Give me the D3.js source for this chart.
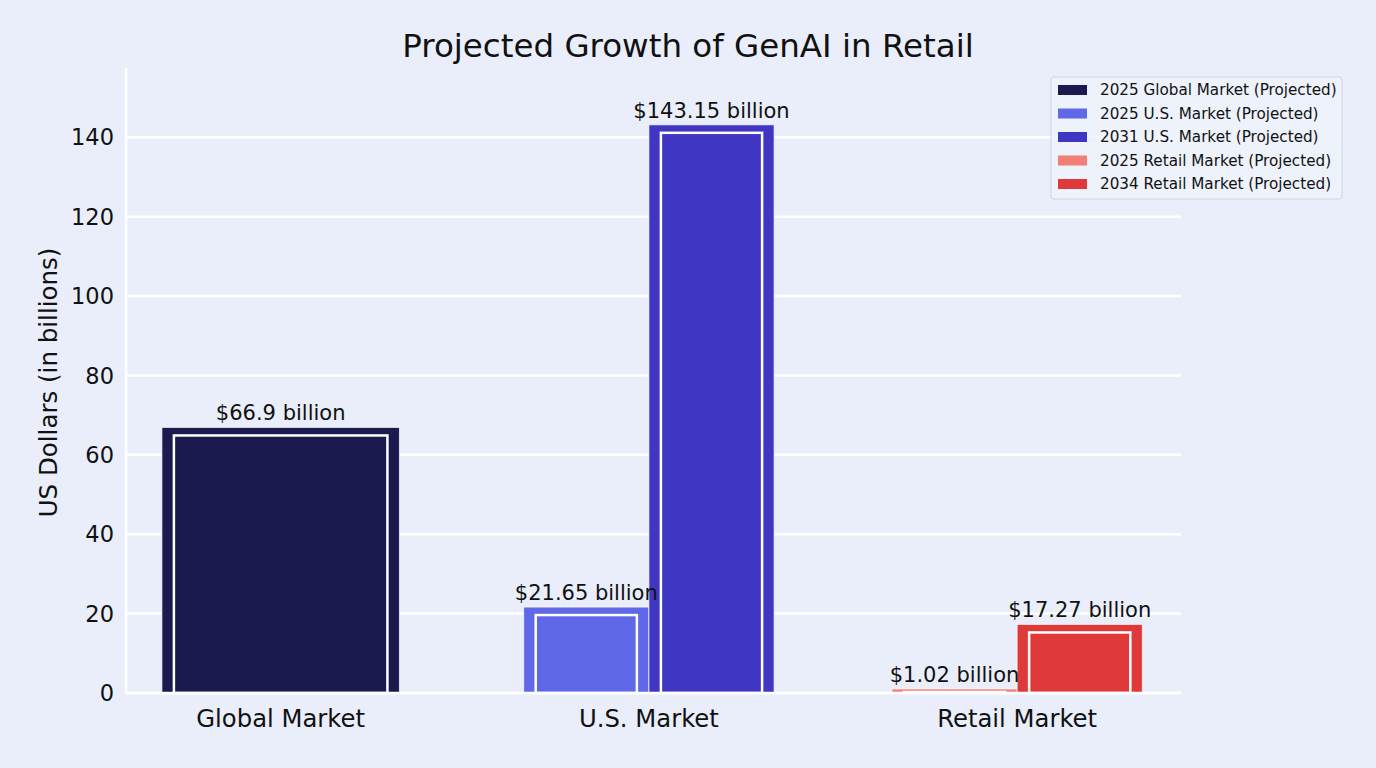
<!DOCTYPE html>
<html>
<head>
<meta charset="utf-8">
<script src="https://cdn.jsdelivr.net/npm/d3@7"></script>
<style>
  html, body { margin: 0; padding: 0; background: #e9eefa; }
  svg { display: block; font-family: "DejaVu Sans", sans-serif; }
</style>
</head>
<body>
<div class="chart-container"></div>
<script>
const width = 1376;
const height = 768;

// Categories and bars
const categories = ['Global Market', 'U.S. Market', 'Retail Market'];
const seriesNames = [
  '2025 Global Market (Projected)',
  '2025 U.S. Market (Projected)',
  '2031 U.S. Market (Projected)',
  '2025 Retail Market (Projected)',
  '2034 Retail Market (Projected)'
];
const seriesCategory = [0, 1, 1, 2, 2];
const seriesValues = [66.9, 21.65, 143.15, 1.02, 17.27];
const seriesLabels = ['$66.9 billion', '$21.65 billion', '$143.15 billion', '$1.02 billion', '$17.27 billion'];
const seriesColors = ['#1b1a4f', '#5f68e6', '#3f37c4', '#f27f76', '#e0393a'];
const yTicks = [0, 20, 40, 60, 80, 100, 120, 140];

const margin = {left: 126, right: 195, top: 68, bottom: 75};

// Offset of each bar from its category centre and its width (in category units)
const barOffset = [0, -0.17, 0.17, -0.17, 0.17];
const barWidth = [0.645, 0.34, 0.34, 0.34, 0.34];

const x = d3.scaleLinear()
  .domain([-0.42, 2.445])
  .range([margin.left, width - margin.right]);

const y = d3.scaleLinear()
  .domain([0, 143.15 * 1.1])
  .range([height - margin.bottom, margin.top]);

const svg = d3.select('.chart-container')
  .append('svg')
  .attr('width', width)
  .attr('height', height);

svg.append('rect')
  .attr('width', width)
  .attr('height', height)
  .attr('fill', '#e9eefa');

// Grid lines
svg.append('g')
  .selectAll('line')
  .data(yTicks)
  .enter()
  .append('line')
  .attr('x1', margin.left)
  .attr('x2', width - margin.right)
  .attr('y1', d => y(d))
  .attr('y2', d => y(d))
  .attr('stroke', '#ffffff')
  .attr('stroke-width', 2.5);

// Left spine
svg.append('line')
  .attr('x1', margin.left).attr('x2', margin.left)
  .attr('y1', y.range()[1]).attr('y2', y(0))
  .attr('stroke', '#ffffff').attr('stroke-width', 2.5);

// Y tick labels
svg.append('g')
  .selectAll('text')
  .data(yTicks)
  .enter()
  .append('text')
  .attr('x', margin.left - 12)
  .attr('y', d => y(d))
  .attr('dy', '0.36em')
  .attr('text-anchor', 'end')
  .attr('font-size', 22.5)
  .attr('fill', '#111')
  .text(d => d);

// Bars
const bars = seriesValues.map((v, i) => ({
  value: v,
  color: seriesColors[i],
  label: seriesLabels[i],
  x0: x(seriesCategory[i] + barOffset[i] - barWidth[i] / 2),
  x1: x(seriesCategory[i] + barOffset[i] + barWidth[i] / 2)
}));

const barG = svg.append('g');

barG.selectAll('.bar')
  .data(bars)
  .enter()
  .append('rect')
  .attr('class', 'bar')
  .attr('x', d => d.x0)
  .attr('y', d => y(d.value))
  .attr('width', d => d.x1 - d.x0)
  .attr('height', d => y(0) - y(d.value))
  .attr('fill', d => d.color)
  .attr('stroke', '#ffffff')
  .attr('stroke-opacity', 0.7)
  .attr('stroke-width', 1);

// Inner outlined rect on each bar
barG.selectAll('.inner')
  .data(bars)
  .enter()
  .append('rect')
  .attr('class', 'inner')
  .attr('x', d => d.x0 + 12)
  .attr('y', d => Math.min(y(d.value) + 8, y(0) - 1))
  .attr('width', d => d.x1 - d.x0 - 24)
  .attr('height', d => Math.max(y(0) - y(d.value) - 8, 1))
  .attr('fill', d => d.color)
  .attr('stroke', '#ffffff')
  .attr('stroke-width', 2.5);

// Baseline spine drawn over bars
svg.append('line')
  .attr('x1', margin.left).attr('x2', width - margin.right)
  .attr('y1', y(0)).attr('y2', y(0))
  .attr('stroke', '#ffffff').attr('stroke-width', 2.5);

// Value labels
barG.selectAll('.value')
  .data(bars)
  .enter()
  .append('text')
  .attr('class', 'value')
  .attr('x', d => (d.x0 + d.x1) / 2)
  .attr('y', d => y(d.value) - 7)
  .attr('text-anchor', 'middle')
  .attr('font-size', 21)
  .attr('fill', '#111')
  .text(d => d.label);

// X tick labels
svg.append('g')
  .selectAll('text')
  .data(categories)
  .enter()
  .append('text')
  .attr('x', (d, i) => x(i))
  .attr('y', y(0) + 34)
  .attr('text-anchor', 'middle')
  .attr('font-size', 24.3)
  .attr('fill', '#111')
  .text(d => d);

// Y axis label
svg.append('text')
  .attr('transform', `translate(57, ${(y.range()[0] + y.range()[1]) / 2 + 2}) rotate(-90)`)
  .attr('text-anchor', 'middle')
  .attr('font-size', 24.5)
  .attr('fill', '#111')
  .text('US Dollars (in billions)');

// Title
svg.append('text')
  .attr('x', 688)
  .attr('y', 57)
  .attr('text-anchor', 'middle')
  .attr('font-size', 32.5)
  .attr('fill', '#111')
  .text('Projected Growth of GenAI in Retail');

// Legend
const legend = svg.append('g').attr('transform', 'translate(1051, 77)');
legend.append('rect')
  .attr('width', 291)
  .attr('height', 122)
  .attr('rx', 3)
  .attr('fill', '#eef2fb')
  .attr('fill-opacity', 0.8)
  .attr('stroke', '#cfd4e0')
  .attr('stroke-width', 1);

const item = legend.selectAll('.item')
  .data(seriesNames)
  .enter()
  .append('g')
  .attr('class', 'item')
  .attr('transform', (d, i) => `translate(0, ${13 + i * 23.5})`);

item.append('rect')
  .attr('x', 7)
  .attr('y', -5)
  .attr('width', 29)
  .attr('height', 10)
  .attr('fill', (d, i) => seriesColors[i]);

item.append('text')
  .attr('x', 49)
  .attr('dy', '0.36em')
  .attr('font-size', 15.2)
  .attr('fill', '#111')
  .text(d => d);
</script>
</body>
</html>
